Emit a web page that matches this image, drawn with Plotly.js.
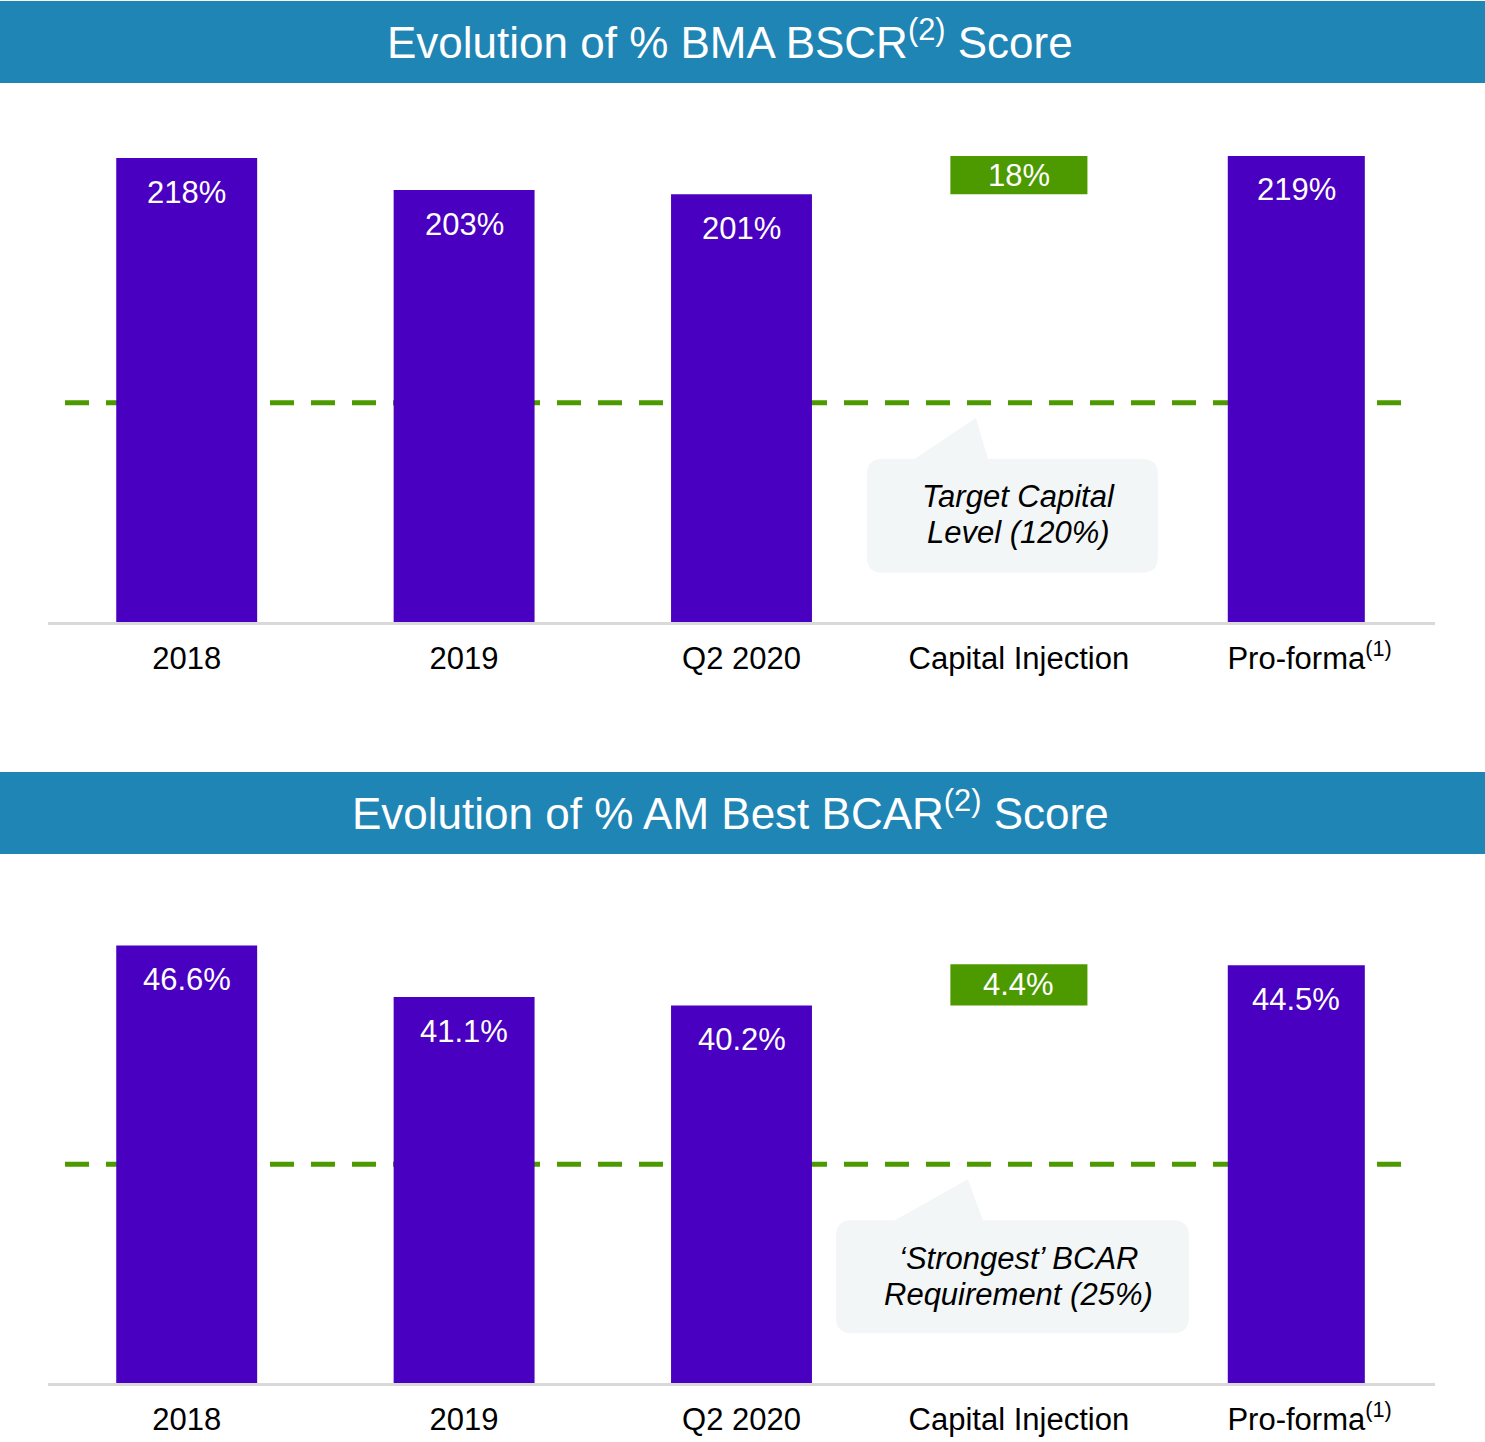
<!DOCTYPE html>
<html>
<head>
<meta charset="utf-8">
<script src="https://cdn.plot.ly/plotly-3.0.1.min.js"></script>
<style>html,body{margin:0;padding:0;background:#fff;}</style>
</head>
<body>
<div id="chart" style="width:1485px;height:1442px;"></div>
<script>
// ---------- DATA ----------
const categories = ["2018", "2019", "Q2 2020", "Capital Injection", "Pro-forma"];
const tickLabels = ["2018", "2019", "Q2 2020", "Capital Injection", "Pro-forma<sup>(1)</sup>"];

const bscrValues = [218, 203, 201, 18, 219];
const bscrBase   = [0, 0, 0, 201, 0];
const bscrLabels = ["218%", "203%", "201%", "18%", "219%"];
const bscrTargetLine = 103;          // where the dashed "120%" line sits on the pictured scale

const bcarValues = [46.6, 41.1, 40.2, 4.4, 44.5];
const bcarBase   = [0, 0, 0, 40.2, 0];
const bcarLabels = ["46.6%", "41.1%", "40.2%", "4.4%", "44.5%"];
const bcarTargetLine = 23.3;         // where the dashed "25%" line sits on the pictured scale

const titles = ["Evolution of % BMA BSCR<sup>(2)</sup> Score",
                "Evolution of % AM Best BCAR<sup>(2)</sup> Score"];
const calloutTop = ["Target Capital", "Level (120%)"];
const calloutBottom = ["\u2018Strongest\u2019 BCAR", "Requirement (25%)"];

// ---------- STYLE ----------
const PURPLE = '#4a00c0', GREEN = '#4c9a00', BLUE = '#1f85b4', CALLOUT = '#f3f6f7', AXIS = '#d9d9d9';
const FONT = 'Arial, "Liberation Sans", sans-serif';
const W = 1485, H = 1442, ML = 48, MR = 50, MT = 0, MB = 59;
const PH = H - MT - MB, PW = W - ML - MR;
const py = px => (PH - (px - MT)) / PH;   // page pixel y -> paper
const pxx = px => (px - ML) / PW;         // page pixel x -> paper
const widths = [0.508, 0.508, 0.508, 0.494, 0.494];
const idx = categories.map((c, i) => i);

// tick text: a transparent copy of any superscript is put in front so the main word stays centred
const shownTicks = tickLabels.map(t => {
  const m = t.match(/<sup>.*<\/sup>/);
  return m ? `<span style="color:rgba(0,0,0,0)">${m[0]}</span>` + t : t;
});

function barTrace(vals, base, xa, ya) {
  return {
    type: 'bar', x: idx, y: vals, base: base, xaxis: xa, yaxis: ya,
    width: widths,
    marker: { color: base.map(b => b > 0 ? GREEN : PURPLE), line: { width: 0 } },
    hoverinfo: 'skip', showlegend: false
  };
}

function xaxisDef(anchor) {
  return {
    type: 'linear', anchor: anchor, domain: [0, 1], range: [-0.5, 4.5],
    showline: true, linecolor: AXIS, linewidth: 3, showgrid: false, zeroline: false,
    tickmode: 'array', tickvals: idx, ticktext: shownTicks,
    ticks: '', ticklabelstandoff: 7,
    tickfont: { family: FONT, size: 31, color: '#000' }, fixedrange: true
  };
}

function calloutPath(x0, x1, yTop, yBot, r, bl, tipx, tipy, br) {
  return `M${x0 + r},${yTop} L${bl},${yTop} L${tipx},${tipy} L${br},${yTop} L${x1 - r},${yTop} ` +
         `Q${x1},${yTop} ${x1},${yTop - r} L${x1},${yBot + r} Q${x1},${yBot} ${x1 - r},${yBot} ` +
         `L${x0 + r},${yBot} Q${x0},${yBot} ${x0},${yBot + r} L${x0},${yTop - r} Q${x0},${yTop} ${x0 + r},${yTop} Z`;
}

const shapes = [
  // title bands
  { type: 'rect', xref: 'paper', yref: 'paper', x0: pxx(0), x1: pxx(W), y0: py(83), y1: py(1), fillcolor: BLUE, line: { width: 0 }, layer: 'below' },
  { type: 'rect', xref: 'paper', yref: 'paper', x0: pxx(0), x1: pxx(W), y0: py(854), y1: py(772), fillcolor: BLUE, line: { width: 0 }, layer: 'below' },
  // dashed target lines
  { type: 'line', xref: 'x domain', yref: 'y', x0: pxx(65), x1: pxx(1405), y0: bscrTargetLine, y1: bscrTargetLine,
    line: { color: GREEN, width: 5, dash: '24px,17px' }, layer: 'below' },
  { type: 'line', xref: 'x2 domain', yref: 'y2', x0: pxx(65), x1: pxx(1405), y0: bcarTargetLine, y1: bcarTargetLine,
    line: { color: GREEN, width: 5, dash: '24px,17px' }, layer: 'below' },
  // callouts
  { type: 'path', xref: 'x', yref: 'y', xsizemode: 'pixel', ysizemode: 'pixel', xanchor: 3, yanchor: bscrTargetLine,
    path: calloutPath(-152, 139, -56, -170, 16, -104, -43, -15, -31), fillcolor: CALLOUT, line: { width: 0 }, layer: 'above' },
  { type: 'path', xref: 'x2', yref: 'y2', xsizemode: 'pixel', ysizemode: 'pixel', xanchor: 3, yanchor: bcarTargetLine,
    path: calloutPath(-183, 170, -56, -169, 16, -124, -51, -15, -36), fillcolor: CALLOUT, line: { width: 0 }, layer: 'above' }
];

const annotations = [];
// titles
[[titles[0], 40], [titles[1], 811]].forEach(([t, y]) => {
  annotations.push({ xref: 'paper', yref: 'paper', x: pxx(730), y: py(y), xanchor: 'center', yanchor: 'middle',
    text: t, showarrow: false, font: { family: FONT, size: 44, color: '#fff' } });
});
// bar labels
function barLabels(vals, base, labels, xa, ya) {
  idx.forEach(i => {
    const floating = base[i] > 0;
    annotations.push({ xref: xa, yref: ya, x: i, y: floating ? base[i] + vals[i] / 2 : vals[i],
      yshift: floating ? 0 : -34, xanchor: 'center', yanchor: 'middle', showarrow: false,
      text: labels[i], font: { family: FONT, size: 31, color: '#fff' } });
  });
}
barLabels(bscrValues, bscrBase, bscrLabels, 'x', 'y');
barLabels(bcarValues, bcarBase, bcarLabels, 'x2', 'y2');
// callout texts
function calloutText(lines, yVal, xa, ya) {
  lines.forEach((t, k) => {
    annotations.push({ xref: xa, yref: ya, x: 3, y: yVal, yshift: -94 - 36 * k, xanchor: 'center', yanchor: 'middle',
      showarrow: false, text: t, font: { family: FONT, size: 31, color: '#000', style: 'italic' } });
  });
}
calloutText(calloutTop, bscrTargetLine, 'x', 'y');
calloutText(calloutBottom, bcarTargetLine, 'x2', 'y2');

const layout = {
  width: W, height: H,
  margin: { l: ML, r: MR, t: MT, b: MB, pad: 0 },
  paper_bgcolor: '#fff', plot_bgcolor: 'rgba(0,0,0,0)',
  showlegend: false, barmode: 'overlay', hovermode: false,
  font: { family: FONT },
  xaxis: xaxisDef('y'),
  xaxis2: xaxisDef('y2'),
  yaxis: { domain: [py(622), py(100)], range: [0, (622 - 100) / 2.128], visible: false, fixedrange: true },
  yaxis2: { domain: [py(1383), py(870)], range: [0, (1383 - 870) / 9.39], visible: false, fixedrange: true },
  shapes: shapes,
  annotations: annotations
};

Plotly.newPlot('chart', [barTrace(bscrValues, bscrBase, 'x', 'y'), barTrace(bcarValues, bcarBase, 'x2', 'y2')],
  layout, { staticPlot: true, displayModeBar: false });
</script>
</body>
</html>
